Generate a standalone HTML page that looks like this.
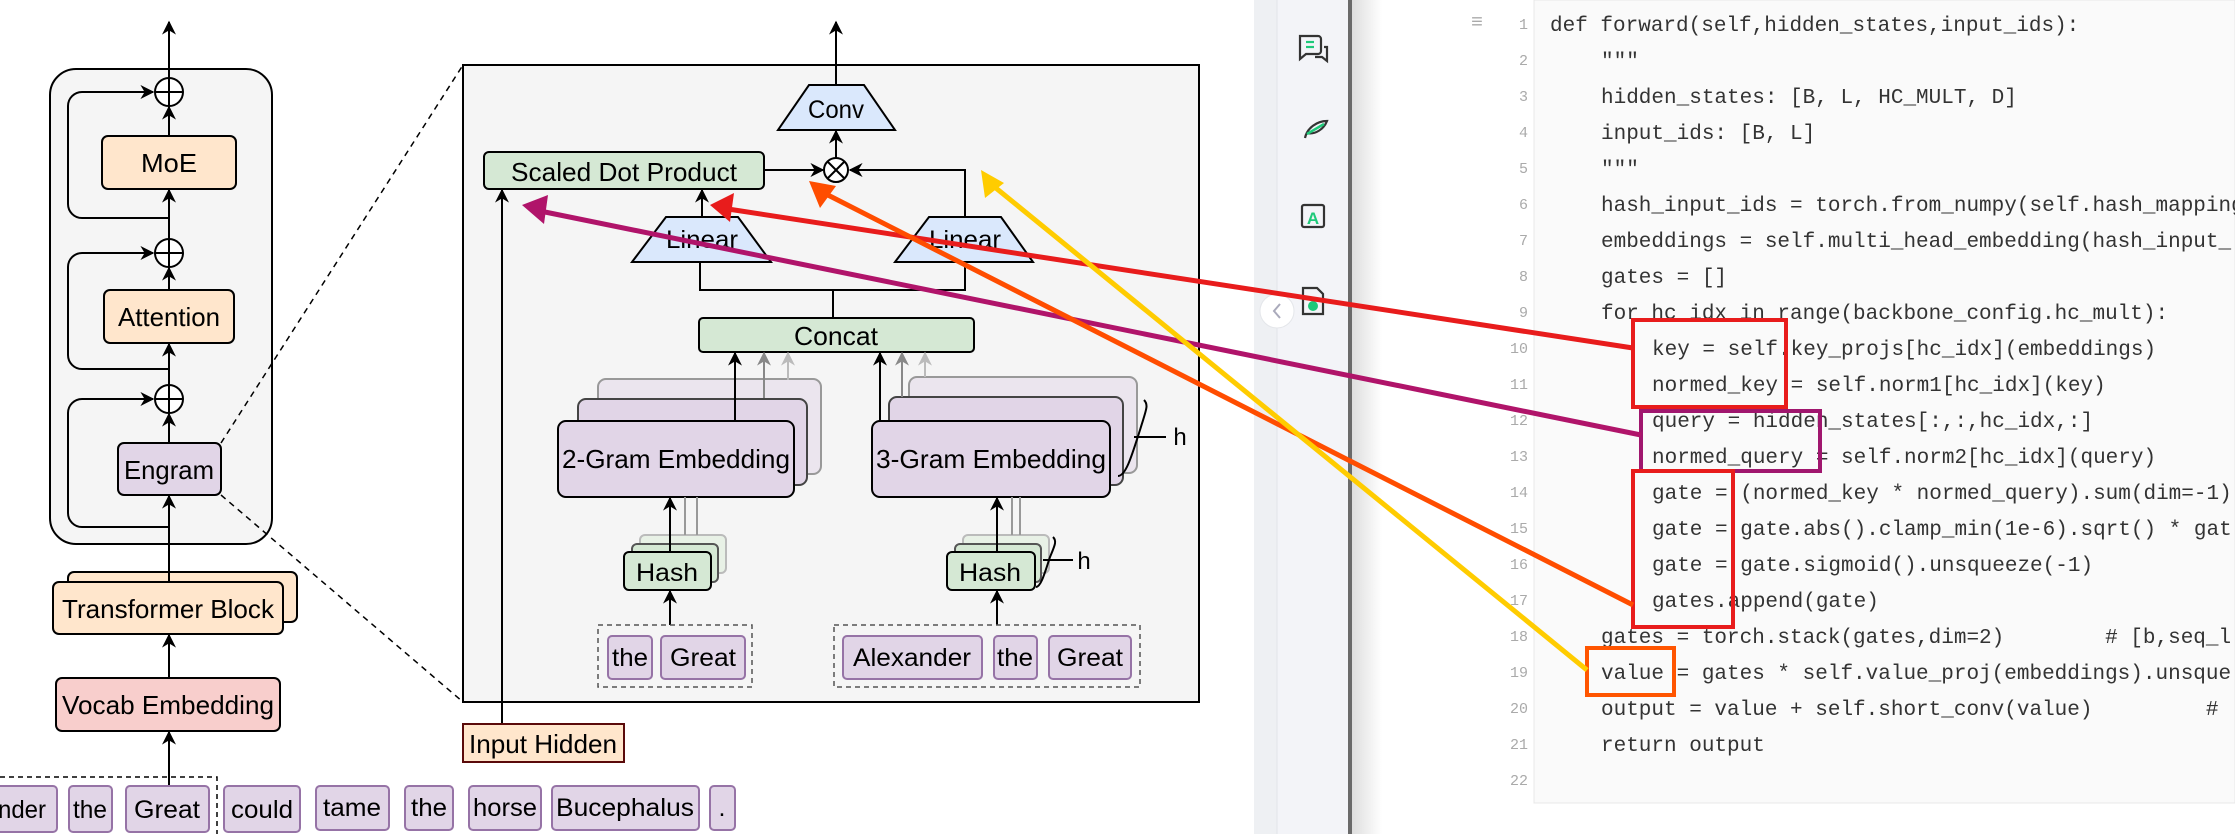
<!DOCTYPE html>
<html><head><meta charset="utf-8"><style>
html,body{margin:0;padding:0;background:#fff;}
body{width:2235px;height:834px;overflow:hidden;position:relative;}
svg{position:absolute;left:0;top:0;}
.code text{white-space:pre;}
</style></head><body>
<svg width="2235" height="834" viewBox="0 0 2235 834" xmlns="http://www.w3.org/2000/svg" font-family="Liberation Sans, sans-serif">
<defs>
<marker id="a" viewBox="0 0 10 10" refX="9" refY="5" markerWidth="7" markerHeight="7" orient="auto-start-reverse"><path d="M0,0 L10,5 L0,10 L3,5 z" fill="#000"/></marker>
<marker id="ag" viewBox="0 0 10 10" refX="9" refY="5" markerWidth="7" markerHeight="7" orient="auto"><path d="M0,0 L10,5 L0,10 L3,5 z" fill="#888"/></marker>
<marker id="al" viewBox="0 0 10 10" refX="9" refY="5" markerWidth="7" markerHeight="7" orient="auto"><path d="M0,0 L10,5 L0,10 L3,5 z" fill="#bbb"/></marker>
<linearGradient id="sh" x1="0" x2="1"><stop offset="0" stop-color="#dedede"/><stop offset="1" stop-color="#fff"/></linearGradient>
</defs>

<!-- ===== Right: code panel ===== -->
<rect x="1254" y="0" width="23" height="834" fill="#eef0f3"/>
<rect x="1277" y="0" width="71" height="834" fill="#f3f4f8"/>
<line x1="1277" y1="0" x2="1277" y2="834" stroke="#e2e4e8"/>
<rect x="1348" y="0" width="4" height="834" fill="#6a6a6a"/>
<rect x="1352" y="0" width="30" height="834" fill="url(#sh)"/>
<rect x="1534" y="0" width="701" height="803" fill="#fafafa" stroke="#e8e8e8"/>
<!-- icons -->
<g fill="none" stroke="#333" stroke-width="2.2">
<path d="M1300,36 h18 a3,3 0 0 1 3,3 v12 a3,3 0 0 1 -3,3 h-12 l-6,5 z"/>
<path d="M1315,57 h7 l5,4 v-14 h-3"/>
<path d="M1305,138 c2,-10 12,-17 22,-17 c-3,8 -12,14 -20,12"/>
<rect x="1302" y="205" width="22" height="22" rx="2"/>
<path d="M1303,288 h14 l6,6 v20 h-20 z"/>
</g>
<line x1="1306" y1="42" x2="1314" y2="42" stroke="#1ec97a" stroke-width="2.2"/>
<line x1="1306" y1="47" x2="1314" y2="47" stroke="#1ec97a" stroke-width="2.2"/>
<path d="M1307,134 l17,-10" stroke="#1ec97a" stroke-width="2.5"/>
<text x="1313" y="224" font-size="17" font-weight="bold" fill="#1ec97a" text-anchor="middle">A</text>
<circle cx="1313" cy="306" r="5" fill="#1ec97a"/>
<circle cx="1277" cy="311" r="17" fill="#fff" stroke="#e4e6ea"/>
<path d="M1280,304 l-6,7 l6,7" fill="none" stroke="#aab" stroke-width="2"/>
<text x="1477" y="28" font-size="20" fill="#aaa" text-anchor="middle">≡</text>

<g font-family="Liberation Mono, monospace" font-size="15" fill="#aaa" text-anchor="end">
<text x="1528" y="29">1</text><text x="1528" y="65">2</text><text x="1528" y="101">3</text><text x="1528" y="137">4</text><text x="1528" y="173">5</text><text x="1528" y="209">6</text><text x="1528" y="245">7</text><text x="1528" y="281">8</text><text x="1528" y="317">9</text><text x="1528" y="353">10</text><text x="1528" y="389">11</text><text x="1528" y="425">12</text><text x="1528" y="461">13</text><text x="1528" y="497">14</text><text x="1528" y="533">15</text><text x="1528" y="569">16</text><text x="1528" y="605">17</text><text x="1528" y="641">18</text><text x="1528" y="677">19</text><text x="1528" y="713">20</text><text x="1528" y="749">21</text><text x="1528" y="785">22</text>
</g>
<g class="code" font-family="Liberation Mono, monospace" font-size="21" fill="#333">
<text x="1550" y="31">def forward(self,hidden_states,input_ids):</text>
<text x="1601" y="67">"""</text>
<text x="1601" y="103">hidden_states: [B, L, HC_MULT, D]</text>
<text x="1601" y="139">input_ids: [B, L]</text>
<text x="1601" y="175">"""</text>
<text x="1601" y="211">hash_input_ids = torch.from_numpy(self.hash_mapping</text>
<text x="1601" y="247">embeddings = self.multi_head_embedding(hash_input_</text>
<text x="1601" y="283">gates = []</text>
<text x="1601" y="319">for hc_idx in range(backbone_config.hc_mult):</text>
<text x="1652" y="355">key = self.key_projs[hc_idx](embeddings)</text>
<text x="1652" y="391">normed_key = self.norm1[hc_idx](key)</text>
<text x="1652" y="427">query = hidden_states[:,:,hc_idx,:]</text>
<text x="1652" y="463">normed_query = self.norm2[hc_idx](query)</text>
<text x="1652" y="499">gate = (normed_key * normed_query).sum(dim=-1)</text>
<text x="1652" y="535">gate = gate.abs().clamp_min(1e-6).sqrt() * gat</text>
<text x="1652" y="571">gate = gate.sigmoid().unsqueeze(-1)</text>
<text x="1652" y="607">gates.append(gate)</text>
<text x="1601" y="643">gates = torch.stack(gates,dim=2)        # [b,seq_l</text>
<text x="1601" y="679">value = gates * self.value_proj(embeddings).unsque</text>
<text x="1601" y="715">output = value + self.short_conv(value)         #</text>
<text x="1601" y="751">return output</text>
</g>
<g fill="none" stroke-width="4">
<rect x="1633" y="320" width="153" height="87" stroke="#e81c1c"/>
<rect x="1641" y="411" width="179" height="60" stroke="#a0166e"/>
<rect x="1633" y="471" width="100" height="156" stroke="#e81c1c"/>
<rect x="1587" y="648" width="87" height="47" stroke="#ff5500"/>
</g>

<!-- ===== Left block ===== -->
<rect x="50" y="69" width="222" height="475" rx="26" fill="#f5f5f5" stroke="#000" stroke-width="2"/>
<line x1="169" y1="582" x2="169" y2="22" stroke="#000" stroke-width="2" marker-end="url(#a)"/>
<g fill="none" stroke="#000" stroke-width="2">
<path d="M169,218 H82 a14,14 0 0 1 -14,-14 V106 a14,14 0 0 1 14,-14 H153" marker-end="url(#a)"/>
<path d="M169,369 H82 a14,14 0 0 1 -14,-14 V267 a14,14 0 0 1 14,-14 H153" marker-end="url(#a)"/>
<path d="M169,527 H82 a14,14 0 0 1 -14,-14 V413 a14,14 0 0 1 14,-14 H153" marker-end="url(#a)"/>
</g>
<g fill="#fff" stroke="#000" stroke-width="2">
<circle cx="169" cy="92" r="14"/><circle cx="169" cy="253" r="14"/><circle cx="169" cy="399" r="14"/>
</g>
<g stroke="#000" stroke-width="2"><path d="M155,92h28M169,78v28M155,253h28M169,239v28M155,399h28M169,385v28"/></g>
<line x1="169" y1="136" x2="169" y2="107" stroke="#000" stroke-width="2" marker-end="url(#a)"/>
<line x1="169" y1="290" x2="169" y2="268" stroke="#000" stroke-width="2" marker-end="url(#a)"/>
<line x1="169" y1="443" x2="169" y2="414" stroke="#000" stroke-width="2" marker-end="url(#a)"/>
<line x1="169" y1="253" x2="169" y2="190" stroke="#000" stroke-width="2" marker-end="url(#a)"/>
<line x1="169" y1="399" x2="169" y2="344" stroke="#000" stroke-width="2" marker-end="url(#a)"/>
<line x1="169" y1="540" x2="169" y2="496" stroke="#000" stroke-width="2" marker-end="url(#a)"/>
<g stroke="#000" stroke-width="2">
<rect x="102" y="136" width="134" height="53" rx="6" fill="#ffe6cc"/>
<rect x="104" y="290" width="130" height="53" rx="6" fill="#ffe6cc"/>
<rect x="118" y="443" width="103" height="52" rx="6" fill="#e1d5e7"/>
<rect x="68" y="572" width="229" height="50" rx="6" fill="#ffe6cc"/>
<rect x="53" y="582" width="230" height="52" rx="6" fill="#ffe6cc"/>
<rect x="56" y="678" width="224" height="53" rx="6" fill="#f8cecc"/>
</g>
<line x1="169" y1="582" x2="169" y2="540" stroke="#000" stroke-width="2"/>
<line x1="169" y1="678" x2="169" y2="635" stroke="#000" stroke-width="2" marker-end="url(#a)"/>
<line x1="169" y1="786" x2="169" y2="732" stroke="#000" stroke-width="2" marker-end="url(#a)"/>
<g font-size="26" text-anchor="middle" fill="#000">
<text x="169" y="172" textLength="56" lengthAdjust="spacingAndGlyphs">MoE</text>
<text x="169" y="326" textLength="102" lengthAdjust="spacingAndGlyphs">Attention</text>
<text x="169" y="479" textLength="90" lengthAdjust="spacingAndGlyphs">Engram</text>
<text x="168" y="618" textLength="212" lengthAdjust="spacingAndGlyphs">Transformer Block</text>
<text x="168" y="714" textLength="212" lengthAdjust="spacingAndGlyphs">Vocab Embedding</text>
</g>
<!-- tokens row -->
<path d="M0,777 H217 V834" fill="none" stroke="#000" stroke-width="1.5" stroke-dasharray="5,4"/>
<g fill="#e1d5e7" stroke="#9673a6" stroke-width="2">
<rect x="-10" y="786" width="67" height="46" rx="4"/>
<rect x="69" y="786" width="43" height="46" rx="4"/>
<rect x="126" y="786" width="83" height="46" rx="4"/>
<rect x="224" y="786" width="76" height="46" rx="4"/>
<rect x="316" y="786" width="73" height="44" rx="4"/>
<rect x="405" y="786" width="48" height="44" rx="4"/>
<rect x="469" y="786" width="72" height="44" rx="4"/>
<rect x="552" y="786" width="147" height="44" rx="4"/>
<rect x="710" y="786" width="25" height="44" rx="4"/>
</g>
<g font-size="25" text-anchor="middle" fill="#000">
<text x="22" y="818" textLength="48" lengthAdjust="spacingAndGlyphs">nder</text><text x="90" y="818" textLength="34" lengthAdjust="spacingAndGlyphs">the</text><text x="167" y="818" textLength="66" lengthAdjust="spacingAndGlyphs">Great</text>
<text x="262" y="818" textLength="62" lengthAdjust="spacingAndGlyphs">could</text><text x="352" y="816" textLength="58" lengthAdjust="spacingAndGlyphs">tame</text><text x="429" y="816" textLength="36" lengthAdjust="spacingAndGlyphs">the</text>
<text x="505" y="816" textLength="64" lengthAdjust="spacingAndGlyphs">horse</text><text x="625" y="816" textLength="138" lengthAdjust="spacingAndGlyphs">Bucephalus</text><text x="722" y="816">.</text>
</g>

<!-- dashed zoom lines -->
<line x1="221" y1="443" x2="463" y2="65" stroke="#000" stroke-width="1.5" stroke-dasharray="6,5"/>
<line x1="221" y1="495" x2="463" y2="702" stroke="#000" stroke-width="1.5" stroke-dasharray="6,5"/>

<!-- ===== Engram detail ===== -->
<rect x="463" y="65" width="736" height="637" fill="#f5f5f5" stroke="#000" stroke-width="2"/>
<line x1="836" y1="85" x2="836" y2="22" stroke="#000" stroke-width="2" marker-end="url(#a)"/>
<polygon points="809,85 864,85 895,130 778,130" fill="#dae8fc" stroke="#000" stroke-width="2"/>
<text x="836" y="118" font-size="25" text-anchor="middle" textLength="56" lengthAdjust="spacingAndGlyphs">Conv</text>
<line x1="836" y1="158" x2="836" y2="131" stroke="#000" stroke-width="2" marker-end="url(#a)"/>
<line x1="764" y1="170" x2="823" y2="170" stroke="#000" stroke-width="2" marker-end="url(#a)"/>
<path d="M965,217 V170 H850" fill="none" stroke="#000" stroke-width="2" marker-end="url(#a)"/>
<circle cx="836" cy="170" r="12" fill="#fff" stroke="#000" stroke-width="2"/>
<path d="M828,162 l16,16 M844,162 l-16,16" stroke="#000" stroke-width="2"/>
<rect x="484" y="152" width="280" height="37" rx="5" fill="#d5e8d4" stroke="#000" stroke-width="2"/>
<text x="624" y="181" font-size="26" text-anchor="middle" textLength="226" lengthAdjust="spacingAndGlyphs">Scaled Dot Product</text>
<line x1="702" y1="217" x2="702" y2="190" stroke="#000" stroke-width="2" marker-end="url(#a)"/>
<line x1="502" y1="724" x2="502" y2="190" stroke="#000" stroke-width="2" marker-end="url(#a)"/>
<polygon points="666,217 738,217 771,262 632,262" fill="#dae8fc" stroke="#000" stroke-width="2"/>
<polygon points="929,217 1001,217 1033,262 895,262" fill="#dae8fc" stroke="#000" stroke-width="2"/>
<text x="702" y="248" font-size="25" text-anchor="middle" textLength="72" lengthAdjust="spacingAndGlyphs">Linear</text>
<text x="965" y="248" font-size="25" text-anchor="middle" textLength="72" lengthAdjust="spacingAndGlyphs">Linear</text>
<path d="M700,262 V290 H965 V262 M833,290 V318" fill="none" stroke="#000" stroke-width="2"/>
<rect x="699" y="318" width="275" height="34" rx="4" fill="#d5e8d4" stroke="#000" stroke-width="2"/>
<text x="836" y="345" font-size="26" text-anchor="middle" textLength="84" lengthAdjust="spacingAndGlyphs">Concat</text>

<!-- 2-gram stack -->
<rect x="598" y="379" width="223" height="95" rx="8" fill="#ebe5ee" stroke="#999" stroke-width="2"/>
<rect x="578" y="399" width="229" height="86" rx="8" fill="#e1d5e7" stroke="#444" stroke-width="2"/>
<line x1="764" y1="398" x2="764" y2="353" stroke="#888" stroke-width="2" marker-end="url(#ag)"/>
<line x1="788" y1="380" x2="788" y2="353" stroke="#bbb" stroke-width="2" marker-end="url(#al)"/>
<rect x="558" y="421" width="236" height="76" rx="8" fill="#e1d5e7" stroke="#000" stroke-width="2"/>
<line x1="735" y1="421" x2="735" y2="353" stroke="#000" stroke-width="2" marker-end="url(#a)"/>
<text x="676" y="468" font-size="26" text-anchor="middle" textLength="228" lengthAdjust="spacingAndGlyphs">2-Gram Embedding</text>
<!-- 3-gram stack -->
<rect x="909" y="377" width="228" height="96" rx="8" fill="#ebe5ee" stroke="#999" stroke-width="2"/>
<rect x="889" y="397" width="234" height="88" rx="8" fill="#e1d5e7" stroke="#444" stroke-width="2"/>
<line x1="902" y1="397" x2="902" y2="353" stroke="#888" stroke-width="2" marker-end="url(#ag)"/>
<line x1="925" y1="377" x2="925" y2="353" stroke="#bbb" stroke-width="2" marker-end="url(#al)"/>
<rect x="872" y="421" width="238" height="76" rx="8" fill="#e1d5e7" stroke="#000" stroke-width="2"/>
<line x1="880" y1="421" x2="880" y2="353" stroke="#000" stroke-width="2" marker-end="url(#a)"/>
<text x="991" y="468" font-size="26" text-anchor="middle" textLength="230" lengthAdjust="spacingAndGlyphs">3-Gram Embedding</text>
<path d="M1144,400 c5,5 2,10 -4,30 c-8,25 -14,46 -22,46 M1134,437 H1166" fill="none" stroke="#000" stroke-width="2"/>
<text x="1180" y="445" font-size="24" text-anchor="middle">h</text>

<!-- hashes -->
<rect x="640" y="535" width="86" height="38" rx="5" fill="#e8f1e6" stroke="#bbb" stroke-width="2"/>
<rect x="632" y="544" width="86" height="38" rx="5" fill="#d5e8d4" stroke="#555" stroke-width="2"/>
<path d="M685,535 V497 M697,535 V497" stroke="#999" stroke-width="2" fill="none"/>
<rect x="624" y="552" width="87" height="38" rx="5" fill="#d5e8d4" stroke="#000" stroke-width="2"/>
<line x1="670" y1="552" x2="670" y2="498" stroke="#000" stroke-width="2" marker-end="url(#a)"/>
<text x="667" y="581" font-size="25" text-anchor="middle" textLength="62" lengthAdjust="spacingAndGlyphs">Hash</text>
<rect x="963" y="535" width="86" height="38" rx="5" fill="#e8f1e6" stroke="#bbb" stroke-width="2"/>
<rect x="955" y="544" width="86" height="38" rx="5" fill="#d5e8d4" stroke="#555" stroke-width="2"/>
<path d="M1012,535 V497 M1020,535 V497" stroke="#999" stroke-width="2" fill="none"/>
<rect x="947" y="552" width="88" height="38" rx="5" fill="#d5e8d4" stroke="#000" stroke-width="2"/>
<line x1="997" y1="552" x2="997" y2="498" stroke="#000" stroke-width="2" marker-end="url(#a)"/>
<text x="990" y="581" font-size="25" text-anchor="middle" textLength="62" lengthAdjust="spacingAndGlyphs">Hash</text>
<path d="M1053,537 c4,4 2,8 -3,20 c-5,15 -9,30 -14,30 M1043,560 H1073" fill="none" stroke="#000" stroke-width="2"/>
<text x="1084" y="569" font-size="24" text-anchor="middle">h</text>

<!-- token groups -->
<line x1="670" y1="625" x2="670" y2="591" stroke="#000" stroke-width="2" marker-end="url(#a)"/>
<line x1="997" y1="625" x2="997" y2="591" stroke="#000" stroke-width="2" marker-end="url(#a)"/>
<rect x="598" y="625" width="154" height="62" fill="none" stroke="#555" stroke-width="1.5" stroke-dasharray="5,4"/>
<rect x="834" y="625" width="306" height="62" fill="none" stroke="#555" stroke-width="1.5" stroke-dasharray="5,4"/>
<g fill="#e1d5e7" stroke="#9673a6" stroke-width="2">
<rect x="608" y="636" width="44" height="43" rx="4"/><rect x="661" y="636" width="84" height="43" rx="4"/>
<rect x="843" y="636" width="139" height="43" rx="4"/><rect x="994" y="636" width="43" height="43" rx="4"/><rect x="1049" y="636" width="82" height="43" rx="4"/>
</g>
<g font-size="25" text-anchor="middle">
<text x="630" y="666" textLength="36" lengthAdjust="spacingAndGlyphs">the</text><text x="703" y="666" textLength="66" lengthAdjust="spacingAndGlyphs">Great</text>
<text x="912" y="666" textLength="118" lengthAdjust="spacingAndGlyphs">Alexander</text><text x="1015" y="666" textLength="36" lengthAdjust="spacingAndGlyphs">the</text><text x="1090" y="666" textLength="66" lengthAdjust="spacingAndGlyphs">Great</text>
</g>
<rect x="463" y="724" width="161" height="38" fill="#ffe6cc" stroke="#5a0a0a" stroke-width="2"/>
<text x="543" y="753" font-size="26" text-anchor="middle" textLength="148" lengthAdjust="spacingAndGlyphs">Input Hidden</text>

<!-- colored arrows -->
<g stroke-width="5" fill="none">
<line x1="1633" y1="348" x2="728" y2="209" stroke="#e81c1c"/>
<line x1="1641" y1="435" x2="540" y2="211" stroke="#b0146a"/>
<line x1="1633" y1="605" x2="822" y2="192" stroke="#ff4d00"/>
<line x1="1587" y1="670" x2="991" y2="184" stroke="#ffcc00"/>
</g>
<polygon points="710,205 734,193 730,222" fill="#e81c1c"/>
<polygon points="522,205 548,195 544,224" fill="#b0146a"/>
<polygon points="809,181 836,186 820,208" fill="#ff4d00"/>
<polygon points="981,170 1004,183 985,198" fill="#ffcc00"/>
</svg>
</body></html>
